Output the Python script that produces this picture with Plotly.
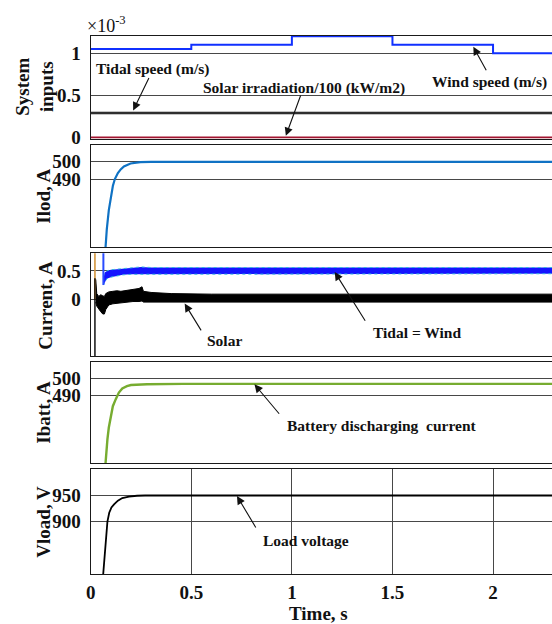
import plotly.graph_objects as go

# picture geometry (the page is captured slightly taller than 624 css px and
# resized to 624, so the figure is laid out in "picture" pixels and stretched)
W, PIC_H = 552, 624
H = 633.5
K = H / PIC_H
FONT = "Liberation Serif"

# ---------------- data ----------------
# x axis
time_ticks = [0, 0.5, 1, 1.5, 2]
time_labels = ["0", "0.5", "1", "1.5", "2"]

# Panel 1: system inputs (x 10^-3)
t_inputs = [0.0, 0.5, 1.0, 1.5, 2.0, 2.3]
wind_speed = [1.05, 1.10, 1.20, 1.10, 1.00, 1.00]
tidal_speed = [0.29, 0.29, 0.29, 0.29, 0.29, 0.29]
solar_irradiation = [0.0, 0.0, 0.0, 0.0, 0.0, 0.0]
inputs_ticks = [0, 0.5, 1]
inputs_labels = ["0", "0.5", "1"]

# Panel 2: load current
t_iload = [0.071, 0.073, 0.080, 0.090, 0.100, 0.110, 0.120, 0.135, 0.149, 0.165, 0.198, 0.247, 0.300, 2.300]
iload = [446, 450, 461, 472, 480, 486, 490, 493.5, 495.6, 497.3, 499.0, 499.8, 500, 500]
iload_ticks = [490, 500]
iload_labels = ["490", "500"]

# Panel 3: source currents
t_orange_spike = [0.021, 0.021]
orange_spike = [0.9, 0.0]
t_black_spike = [0.021, 0.021]
black_spike = [0.37, -1.1]
t_blue_spike = [0.063, 0.063]
blue_spike = [0.9, 0.25]
t_wind_band = [0.063, 0.066, 0.070, 0.080, 0.100, 0.130, 0.160, 0.200, 0.250, 0.300, 0.400,
               0.600, 0.800, 1.000, 1.200, 1.500, 1.800, 2.000, 2.300]
wind_upper = [0.40, 0.42, 0.47, 0.50, 0.52, 0.53, 0.54, 0.56, 0.57, 0.56, 0.56,
              0.55, 0.56, 0.55, 0.56, 0.55, 0.56, 0.55, 0.56]
wind_lower = [0.25, 0.27, 0.31, 0.36, 0.39, 0.41, 0.43, 0.44, 0.45, 0.45, 0.44,
              0.45, 0.44, 0.45, 0.44, 0.45, 0.44, 0.45, 0.45]
t_solar_band = [0.025, 0.030, 0.040, 0.050, 0.060, 0.068, 0.075, 0.090, 0.110, 0.130, 0.150,
                0.180, 0.210, 0.240, 0.255, 0.262, 0.300, 0.400, 0.600, 1.000, 1.500, 2.000, 2.300]
solar_upper = [0.35, 0.10, 0.05, 0.08, 0.06, 0.05, 0.10, 0.13, 0.14, 0.15, 0.14,
               0.16, 0.18, 0.19, 0.22, 0.14, 0.12, 0.10, 0.09, 0.09, 0.09, 0.09, 0.09]
solar_lower = [-0.05, -0.12, -0.18, -0.22, -0.26, -0.26, -0.18, -0.10, -0.08, -0.07, -0.06,
               -0.05, -0.04, -0.04, -0.03, -0.05, -0.05, -0.05, -0.05, -0.05, -0.05, -0.05, -0.05]
current_ticks = [0, 0.5]
current_labels = ["0", "0.5"]

# Panel 4: battery current
t_ibatt = [0.071, 0.076, 0.083, 0.090, 0.100, 0.110, 0.124, 0.140, 0.157, 0.180, 0.200, 0.280, 0.460, 2.300]
ibatt = [446, 455, 464, 471, 478, 483.5, 487.5, 491.5, 493.9, 495.3, 495.9, 496.4, 496.6, 496.6]
ibatt_ticks = [490, 500]
ibatt_labels = ["490", "500"]

# Panel 5: load voltage
t_vload = [0.060, 0.062, 0.070, 0.077, 0.083, 0.092, 0.103, 0.116, 0.135, 0.157, 0.190, 0.230, 0.270, 2.300]
vload = [790, 800, 843, 878, 900, 917, 927, 933, 940, 945, 948, 949.5, 950, 950]
vload_ticks = [900, 950]
vload_labels = ["900", "950"]

# ---------------- figure ----------------
X0 = 86.5
XMAX = (W - X0) / 203.0
LINE = "#1a1a1a"
GRID = "#484848"


def dom(top, bot):
    return [1 - bot / PIC_H, 1 - top / PIC_H]


panels = [
    dict(top=36, bot=138.5, rng=[-0.012, 1.203], tv=inputs_ticks, tt=inputs_labels),
    dict(top=144.5, bot=247.3, rng=[450.5, 510], tv=iload_ticks, tt=iload_labels),
    dict(top=253.3, bot=356, rng=[-1.0, 0.81], tv=current_ticks, tt=current_labels),
    dict(top=361.5, bot=463, rng=[450.2, 509.7], tv=ibatt_ticks, tt=ibatt_labels),
    dict(top=469.3, bot=574, rng=[800, 1000], tv=vload_ticks, tt=vload_labels),
]

fig = go.Figure()

# panel 1
fig.add_trace(go.Scatter(x=t_inputs, y=tidal_speed, mode="lines",
                         line=dict(color="#8a8a8a", width=3), xaxis="x", yaxis="y"))
fig.add_trace(go.Scatter(x=t_inputs, y=tidal_speed, mode="lines",
                         line=dict(color="#111111", width=1.4), xaxis="x", yaxis="y"))
fig.add_trace(go.Scatter(x=t_inputs, y=solar_irradiation, mode="lines",
                         line=dict(color="#a2142f", width=2.2), xaxis="x", yaxis="y"))
fig.add_trace(go.Scatter(x=t_inputs, y=wind_speed, mode="lines", line_shape="hv",
                         line=dict(color="#1030ff", width=2), xaxis="x", yaxis="y"))

# panel 2
fig.add_trace(go.Scatter(x=t_iload, y=iload, mode="lines",
                         line=dict(color="#0f72c4", width=2.2), xaxis="x2", yaxis="y2"))

# panel 3
fig.add_trace(go.Scatter(x=t_wind_band + t_wind_band[::-1], y=wind_upper + wind_lower[::-1],
                         mode="lines", fill="toself", fillcolor="#1414ff",
                         line=dict(color="#35b6dc", width=1, dash="dot"), xaxis="x3", yaxis="y3"))
fig.add_trace(go.Scatter(x=t_blue_spike, y=blue_spike, mode="lines",
                         line=dict(color="#2a4cff", width=2), xaxis="x3", yaxis="y3"))
fig.add_trace(go.Scatter(x=t_solar_band + t_solar_band[::-1], y=solar_upper + solar_lower[::-1],
                         mode="lines", fill="toself", fillcolor="#000000",
                         line=dict(color="#000000", width=1), xaxis="x3", yaxis="y3"))
fig.add_trace(go.Scatter(x=t_orange_spike, y=orange_spike, mode="lines",
                         line=dict(color="#d4953c", width=1.6), xaxis="x3", yaxis="y3"))
fig.add_trace(go.Scatter(x=t_black_spike, y=black_spike, mode="lines",
                         line=dict(color="#000000", width=1.4), xaxis="x3", yaxis="y3"))

# panel 4
fig.add_trace(go.Scatter(x=t_ibatt, y=ibatt, mode="lines",
                         line=dict(color="#77ac30", width=2.4), xaxis="x4", yaxis="y4"))

# panel 5
fig.add_trace(go.Scatter(x=t_vload, y=vload, mode="lines",
                         line=dict(color="#000000", width=1.8), xaxis="x5", yaxis="y5"))

tickfont = dict(family=FONT, size=19, color="#111111", weight="bold")
layout = dict(width=W, height=H, margin=dict(l=0, r=0, t=0, b=0), autosize=False,
              paper_bgcolor="white", plot_bgcolor="white", showlegend=False)

for i, p in enumerate(panels, 1):
    sx = "" if i == 1 else str(i)
    xa = dict(domain=[X0 / W, 1], range=[0, XMAX], anchor="y" + sx,
              showline=True, mirror=True, linecolor=LINE, linewidth=1.3,
              ticks="", zeroline=False, showgrid=(i == 5), gridcolor=GRID, gridwidth=1.3,
              showticklabels=(i == 5), tickvals=time_ticks, ticktext=time_labels,
              tickfont=tickfont, ticklabelstandoff=1)
    ya = dict(domain=dom(p["top"], p["bot"]), range=p["rng"], anchor="x" + sx,
              showline=True, mirror=False, linecolor=LINE, linewidth=1.3,
              ticks="", zeroline=False, showgrid=True, gridcolor=GRID, gridwidth=1.3,
              tickvals=p["tv"], ticktext=p["tt"], tickfont=tickfont, ticklabelstandoff=5)
    if i == 1:
        xa["layer"] = "below traces"
        ya["layer"] = "below traces"
    layout["xaxis" + sx] = xa
    layout["yaxis" + sx] = ya

fig.update_layout(**layout)


def px(x, y, text, size=15.5, angle=0, bold=True, xanchor="center"):
    return dict(x=x / W, y=1 - y / PIC_H, xref="paper", yref="paper",
                text=("<b>%s</b>" % text) if bold else text,
                showarrow=False, textangle=angle, xanchor=xanchor, yanchor="middle",
                font=dict(family=FONT, size=size, color="#111111"))


def arrow(x, y, ax, ay, sub):
    return dict(x=x, y=y, xref="x" + sub, yref="y" + sub, ax=ax, ay=ay * K, text=" ",
                showarrow=True, arrowhead=2, arrowsize=1.5, arrowwidth=1.1, arrowcolor="#111111",
                font=dict(size=1))


ann = [
    # y titles
    px(30, 87, "System<br>inputs", size=19, angle=-90),
    px(38, 196, "Ilod, A", size=19, angle=-90),
    px(40, 305, "Current, A", size=19, angle=-90),
    px(38, 412, "Ibatt, A", size=19, angle=-90),
    px(38, 522, "Vload, V", size=19, angle=-90),
    # x title
    px(316, 613, "Time, s", size=19),
    # exponent
    px(81, 25, "×10<sup>-3</sup>", size=18, bold=False, xanchor="left"),
    # labels
    px(149, 69, "Tidal speed (m/s)"),
    px(302, 88, "Solar irradiation/100 (kW/m2)"),
    px(489, 82, "Wind speed (m/s)"),
    px(222, 341, "Solar"),
    px(416, 332, "Tidal = Wind"),
    px(380, 425, "Battery discharging&nbsp; current"),
    px(304, 540, "Load voltage"),
    # arrows (head in data coords, tail offset in pixels)
    arrow(0.211, 0.32, 16.7, -34, ""),
    arrow(0.970, 0.02, 15.5, -41.7, ""),
    arrow(1.902, 1.075, 14, 25, ""),
    arrow(0.467, -0.076, 17.7, 28.4, "3"),
    arrow(1.213, 0.48, 31.7, 50, "3"),
    arrow(0.814, 496.3, 26.2, 30.7, "4"),
    arrow(0.727, 949, 20, 33, "5"),
]
fig.update_layout(annotations=ann)

css = "html,body{margin:0;padding:0;overflow:hidden;}"
post = ("var s=document.createElement('style');s.innerHTML='%s';"
        "document.head.appendChild(s);" % css)
fig.write_html("out.html", config={"displayModeBar": False, "responsive": False},
               post_script=post)
